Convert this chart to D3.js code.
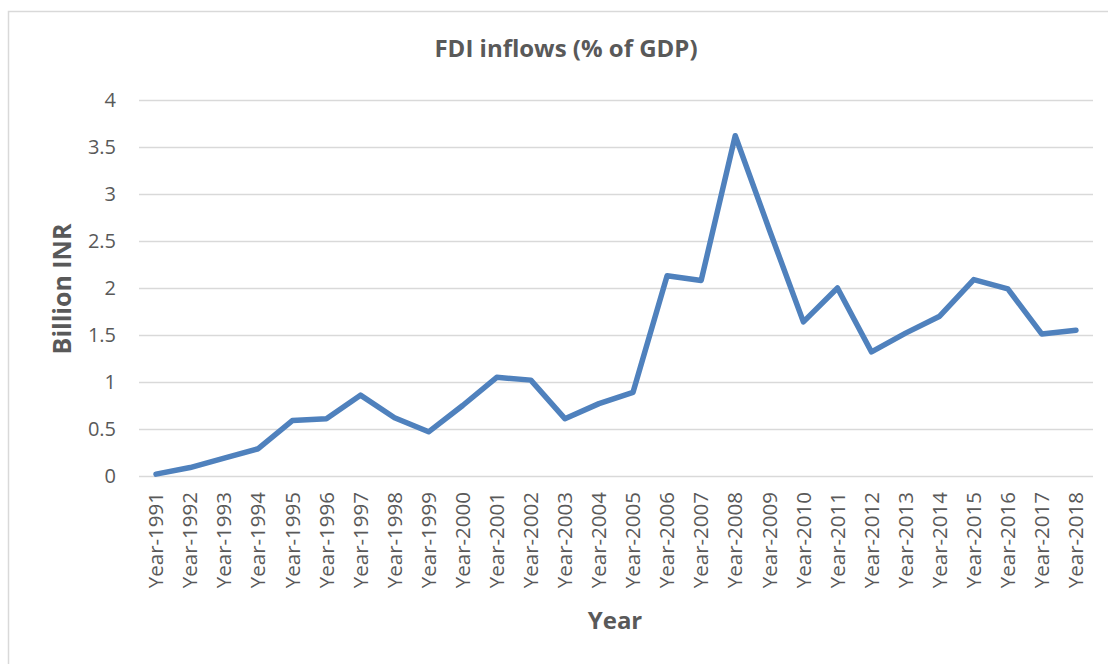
<!DOCTYPE html>
<html>
<head>
<meta charset="utf-8">
<script src="https://cdn.jsdelivr.net/npm/d3@7"></script>
<style>
  body { margin: 0; background: #fff; }
  svg { display: block; font-family: "Open Sans", "Noto Sans", sans-serif; }
</style>
</head>
<body>
<div id="chart"></div>
<script>
// data
const years = ["Year-1991","Year-1992","Year-1993","Year-1994","Year-1995","Year-1996","Year-1997",
  "Year-1998","Year-1999","Year-2000","Year-2001","Year-2002","Year-2003","Year-2004","Year-2005",
  "Year-2006","Year-2007","Year-2008","Year-2009","Year-2010","Year-2011","Year-2012","Year-2013",
  "Year-2014","Year-2015","Year-2016","Year-2017","Year-2018"];
const fdiValues = [0.02, 0.09, 0.19, 0.29, 0.59, 0.61, 0.86, 0.62, 0.47, 0.75, 1.05, 1.02, 0.61, 0.77,
  0.89, 2.13, 2.08, 3.62, 2.62, 1.64, 2.0, 1.32, 1.52, 1.70, 2.09, 1.99, 1.51, 1.55];
const yTicks = [0, 0.5, 1, 1.5, 2, 2.5, 3, 3.5, 4];

const W = 1108, H = 664;
const margin = {top: 100, right: 15, bottom: 188, left: 139};
const width = W - margin.left - margin.right;
const height = H - margin.top - margin.bottom;

const svg = d3.select("#chart").append("svg")
  .attr("width", W)
  .attr("height", H);

// chart area border
svg.append("rect")
  .attr("x", 8.5).attr("y", 11.5)
  .attr("width", W + 20).attr("height", H + 20)
  .attr("fill", "none")
  .attr("stroke", "#d9d9d9")
  .attr("stroke-width", 1.5);

const g = svg.append("g")
  .attr("transform", "translate(" + margin.left + "," + margin.top + ")");

const x = d3.scaleBand().domain(years).range([0, width]);
const y = d3.scaleLinear().domain([0, 4]).range([height, 0]);

// gridlines
g.append("g")
  .attr("class", "grid")
  .call(d3.axisLeft(y).tickValues(yTicks).tickSize(-width).tickFormat(""))
  .call(s => s.select(".domain").remove())
  .call(s => s.selectAll(".tick line").attr("stroke", "#d9d9d9").attr("stroke-width", 1.5));

// y axis labels
g.append("g")
  .call(d3.axisLeft(y).tickValues(yTicks).tickSize(0).tickPadding(23).tickFormat(d3.format("")))
  .call(s => s.select(".domain").remove())
  .call(s => s.selectAll("text")
    .attr("fill", "#595959")
    .style("font-size", "20px")
    .style("font-family", "'Open Sans', sans-serif"));

// x axis labels
g.append("g")
  .attr("transform", "translate(0," + height + ")")
  .call(d3.axisBottom(x).tickSize(0))
  .call(s => s.select(".domain").remove())
  .call(s => s.selectAll("text")
    .attr("fill", "#595959")
    .style("font-size", "20.5px")
    .style("font-family", "'Open Sans', sans-serif")
    .attr("text-anchor", "end")
    .attr("transform", "rotate(-90)")
    .attr("x", -16)
    .attr("y", 0)
    .attr("dy", "0.35em"));

// the line
const line = d3.line()
  .x((d, i) => x(years[i]) + x.bandwidth() / 2)
  .y(d => y(d));

g.append("path")
  .datum(fdiValues)
  .attr("d", line)
  .attr("fill", "none")
  .attr("stroke", "#4f81bd")
  .attr("stroke-width", 5.5)
  .attr("stroke-linejoin", "round")
  .attr("stroke-linecap", "round");

// titles
svg.append("text")
  .attr("x", 566).attr("y", 57)
  .attr("text-anchor", "middle")
  .attr("fill", "#595959")
  .style("font-size", "24px")
  .style("font-weight", "bold")
  .text("FDI inflows (% of GDP)");

svg.append("text")
  .attr("transform", "translate(71,289) rotate(-90)")
  .attr("text-anchor", "middle")
  .attr("fill", "#595959")
  .style("font-size", "25px")
  .style("font-weight", "bold")
  .text("Billion INR");

svg.append("text")
  .attr("x", 615).attr("y", 629)
  .attr("text-anchor", "middle")
  .attr("fill", "#595959")
  .style("font-size", "24px")
  .style("font-weight", "bold")
  .text("Year");
</script>
</body>
</html>
